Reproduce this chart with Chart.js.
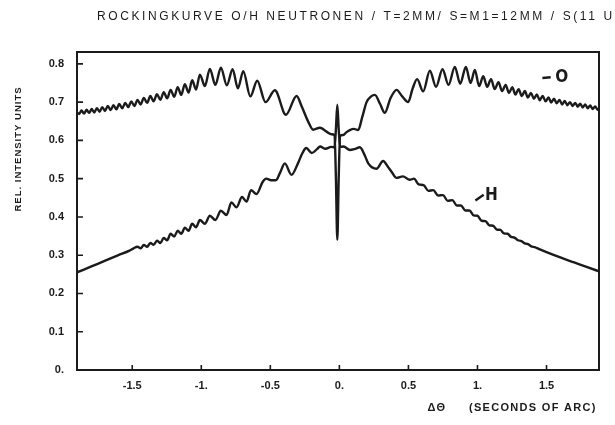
<!DOCTYPE html>
<html>
<head>
<meta charset="utf-8">
<script src="https://cdn.jsdelivr.net/npm/chart.js@4"></script>
<style>
  html, body { margin: 0; background: #fff; }
</style>
</head>
<body>
<canvas id="chart" width="615" height="425"></canvas>
<script>
/* ===== TEXTY ===== */
const titleText = "ROCKINGKURVE O/H NEUTRONEN / T=2MM/ S=M1=12MM / S(11 U";
const yAxisTitle = "REL. INTENSITY UNITS";
const xAxisSymbol = "ΔΘ";
const xAxisTitle = "(SECONDS OF ARC)";

/* ===== OSY ===== */
const xTicks = [-1.5, -1, -0.5, 0, 0.5, 1, 1.5];
const xTickLabels = ["-1.5", "-1.", "-0.5", "0.", "0.5", "1.", "1.5"];
const yTicks = [0, 0.1, 0.2, 0.3, 0.4, 0.5, 0.6, 0.7, 0.8];
const yTickLabels = ["0.", "0.1", "0.2", "0.3", "0.4", "0.5", "0.6", "0.7", "0.8"];

/* ===== DATA (x, intenzita) ===== */
const curveO = [
  [-1.900,0.673],[-1.885,0.669],[-1.867,0.678],[-1.849,0.670],[-1.831,0.680],[-1.812,0.672],
  [-1.794,0.682],[-1.775,0.673],[-1.756,0.684],[-1.736,0.675],[-1.717,0.687],[-1.697,0.677],
  [-1.677,0.690],[-1.656,0.679],[-1.636,0.692],[-1.615,0.681],[-1.594,0.695],[-1.572,0.684],
  [-1.551,0.698],[-1.529,0.687],[-1.507,0.702],[-1.484,0.690],[-1.462,0.706],[-1.439,0.694],
  [-1.416,0.711],[-1.392,0.698],[-1.369,0.716],[-1.345,0.702],[-1.321,0.721],[-1.296,0.706],
  [-1.272,0.726],[-1.247,0.710],[-1.222,0.732],[-1.196,0.714],[-1.171,0.739],[-1.145,0.719],
  [-1.119,0.747],[-1.092,0.725],[-1.066,0.757],[-1.038,0.733],[-1.010,0.772],[-0.974,0.742],
  [-0.938,0.787],[-0.898,0.745],[-0.858,0.790],[-0.815,0.744],[-0.773,0.786],[-0.735,0.736],
  [-0.696,0.781],[-0.645,0.715],[-0.595,0.756],[-0.535,0.700],[-0.467,0.731],[-0.387,0.667],
  [-0.310,0.716],[-0.274,0.690],[-0.226,0.649],[-0.190,0.628],[-0.141,0.633],[-0.093,0.623],
  [-0.057,0.616],[-0.035,0.614],[-0.025,0.500],[-0.015,0.340],[-0.005,0.500],[0.005,0.612],
  [0.028,0.614],[0.050,0.621],[0.076,0.627],[0.105,0.630],[0.136,0.627],[0.165,0.660],
  [0.197,0.700],[0.230,0.715],[0.257,0.719],[0.295,0.695],[0.329,0.672],[0.370,0.710],
  [0.414,0.732],[0.455,0.715],[0.498,0.700],[0.530,0.735],[0.563,0.760],[0.607,0.728],
  [0.655,0.782],[0.700,0.740],[0.747,0.786],[0.790,0.745],[0.836,0.792],[0.875,0.748],
  [0.916,0.792],[0.950,0.750],[0.981,0.784],[1.012,0.742],[1.042,0.768],[1.070,0.740],
  [1.098,0.760],[1.125,0.734],[1.152,0.752],[1.178,0.729],[1.204,0.745],[1.228,0.724],
  [1.252,0.739],[1.275,0.720],[1.298,0.734],[1.321,0.716],[1.343,0.729],[1.365,0.712],
  [1.387,0.724],[1.409,0.709],[1.430,0.720],[1.451,0.705],[1.472,0.716],[1.493,0.702],
  [1.514,0.712],[1.534,0.699],[1.554,0.709],[1.574,0.697],[1.594,0.706],[1.613,0.694],
  [1.632,0.703],[1.651,0.692],[1.670,0.700],[1.689,0.690],[1.708,0.698],[1.726,0.688],
  [1.744,0.696],[1.762,0.686],[1.780,0.694],[1.798,0.684],[1.816,0.691],[1.834,0.682],
  [1.852,0.689],[1.870,0.680],[1.885,0.685]
];

const curveH = [
  [-1.900,0.255],[-1.800,0.270],[-1.700,0.285],[-1.600,0.300],[-1.520,0.312],[-1.490,0.318],
  [-1.462,0.322],[-1.439,0.318],[-1.416,0.327],[-1.392,0.322],[-1.369,0.332],[-1.345,0.327],
  [-1.321,0.338],[-1.296,0.332],[-1.272,0.345],[-1.247,0.339],[-1.222,0.356],[-1.196,0.349],
  [-1.171,0.364],[-1.145,0.356],[-1.119,0.372],[-1.092,0.364],[-1.066,0.382],[-1.038,0.373],
  [-1.010,0.392],[-0.974,0.382],[-0.938,0.403],[-0.898,0.392],[-0.858,0.416],[-0.817,0.405],
  [-0.782,0.438],[-0.745,0.425],[-0.705,0.452],[-0.672,0.440],[-0.640,0.470],[-0.600,0.460],
  [-0.555,0.492],[-0.530,0.500],[-0.495,0.496],[-0.460,0.496],[-0.430,0.515],[-0.395,0.540],
  [-0.347,0.510],[-0.300,0.540],[-0.270,0.565],[-0.240,0.580],[-0.200,0.567],[-0.160,0.578],
  [-0.140,0.584],[-0.100,0.578],[-0.060,0.583],[-0.035,0.582],[-0.025,0.630],[-0.015,0.693],
  [-0.005,0.630],[0.005,0.583],[0.030,0.584],[0.076,0.575],[0.115,0.578],[0.148,0.582],
  [0.185,0.560],[0.209,0.540],[0.269,0.526],[0.317,0.546],[0.350,0.532],[0.378,0.518],
  [0.414,0.502],[0.460,0.506],[0.510,0.497],[0.540,0.500],[0.575,0.485],[0.610,0.483],
  [0.645,0.468],[0.680,0.470],[0.715,0.456],[0.750,0.457],[0.785,0.442],[0.818,0.444],
  [0.850,0.430],[0.880,0.430],[0.912,0.417],[0.942,0.417],[0.972,0.404],[1.000,0.403],
  [1.030,0.390],[1.058,0.389],[1.086,0.378],[1.113,0.377],[1.140,0.367],[1.166,0.366],
  [1.192,0.357],[1.218,0.356],[1.243,0.348],[1.268,0.346],[1.293,0.339],[1.318,0.337],
  [1.342,0.331],[1.366,0.329],[1.390,0.323],[1.414,0.321],[1.440,0.317],[1.500,0.308],
  [1.600,0.294],[1.700,0.281],[1.800,0.268],[1.880,0.258]
];

const curveNames = ["O", "H"];

const ink = "#1b1b1b";
const toPoints = arr => arr.map(([x, y]) => ({ x, y }));

/* ===== RÁMEČEK, VNITŘNÍ ZNAČKY, POPISKY ===== */
const framePlugin = {
  id: "frame",
  afterDraw(chart) {
    const { ctx, chartArea: a, scales: { x, y } } = chart;
    ctx.save();
    ctx.strokeStyle = ink;
    ctx.fillStyle = ink;

    ctx.lineWidth = 2;
    ctx.strokeRect(a.left, a.top, a.right - a.left, a.bottom - a.top);

    ctx.lineWidth = 1.6;
    ctx.beginPath();
    xTicks.forEach(v => {
      const px = x.getPixelForValue(v);
      ctx.moveTo(px, a.bottom);
      ctx.lineTo(px, a.bottom - 5);
    });
    yTicks.forEach(v => {
      const py = y.getPixelForValue(v);
      ctx.moveTo(a.left, py);
      ctx.lineTo(a.left + 6, py);
    });
    ctx.stroke();

    // nadpis
    ctx.letterSpacing = "2.6px";
    ctx.font = "12px 'Liberation Sans'";
    ctx.textAlign = "left";
    ctx.textBaseline = "middle";
    ctx.fillText(titleText, 97, 17);

    // osa y
    ctx.save();
    ctx.translate(18, 149);
    ctx.rotate(-Math.PI / 2);
    ctx.letterSpacing = "1px";
    ctx.font = "bold 9.5px 'Liberation Sans'";
    ctx.textAlign = "center";
    ctx.fillText(yAxisTitle, 0, 0);
    ctx.restore();

    // osa x
    ctx.letterSpacing = "1.3px";
    ctx.font = "bold 11px 'Liberation Sans'";
    ctx.textAlign = "center";
    ctx.fillText(xAxisSymbol, 437, 408);
    ctx.textAlign = "left";
    ctx.fillText(xAxisTitle, 469, 408);

    // označení křivek
    ctx.letterSpacing = "0px";
    ctx.font = "bold 17px 'DejaVu Sans Condensed'";
    ctx.textAlign = "center";
    ctx.lineWidth = 2.4;
    ctx.beginPath();
    ctx.moveTo(x.getPixelForValue(1.47), y.getPixelForValue(0.763));
    ctx.lineTo(x.getPixelForValue(1.53), y.getPixelForValue(0.765));
    ctx.stroke();
    ctx.fillText(curveNames[0], x.getPixelForValue(1.61), y.getPixelForValue(0.765));

    ctx.beginPath();
    ctx.moveTo(x.getPixelForValue(0.985), y.getPixelForValue(0.443));
    ctx.lineTo(x.getPixelForValue(1.045), y.getPixelForValue(0.458));
    ctx.stroke();
    ctx.fillText(curveNames[1], x.getPixelForValue(1.10), y.getPixelForValue(0.457));

    ctx.restore();
  }
};

const lineStyle = {
  borderColor: ink,
  borderWidth: 2.4,
  pointRadius: 0,
  showLine: true,
  cubicInterpolationMode: "monotone",
  fill: false
};

new Chart(document.getElementById("chart"), {
  type: "scatter",
  data: {
    datasets: [
      { label: curveNames[0], data: toPoints(curveO), ...lineStyle },
      { label: curveNames[1], data: toPoints(curveH), ...lineStyle }
    ]
  },
  options: {
    responsive: false,
    animation: false,
    devicePixelRatio: 1,
    layout: { padding: { left: 0, right: 16, top: 52, bottom: 0 } },
    plugins: { legend: { display: false }, tooltip: { enabled: false } },
    scales: {
      x: {
        type: "linear",
        min: -1.9,
        max: 1.88,
        afterBuildTicks: s => { s.ticks = xTicks.map(v => ({ value: v })); },
        afterFit: s => { s.height = 55; },
        grid: { display: false, drawTicks: false },
        border: { display: false },
        ticks: {
          color: ink,
          padding: 9,
          maxRotation: 0,
          autoSkip: false,
          font: { family: "'Liberation Sans'", size: 11, weight: "bold" },
          callback: v => xTickLabels[xTicks.indexOf(v)] ?? ""
        }
      },
      y: {
        type: "linear",
        min: 0,
        max: 0.831,
        afterBuildTicks: s => { s.ticks = yTicks.map(v => ({ value: v })); },
        afterFit: s => { s.width = 77; },
        grid: { display: false, drawTicks: false },
        border: { display: false },
        ticks: {
          color: ink,
          padding: 13,
          autoSkip: false,
          font: { family: "'Liberation Sans'", size: 11, weight: "bold" },
          callback: v => yTickLabels[yTicks.indexOf(v)] ?? ""
        }
      }
    }
  },
  plugins: [framePlugin]
});
</script>
</body>
</html>
